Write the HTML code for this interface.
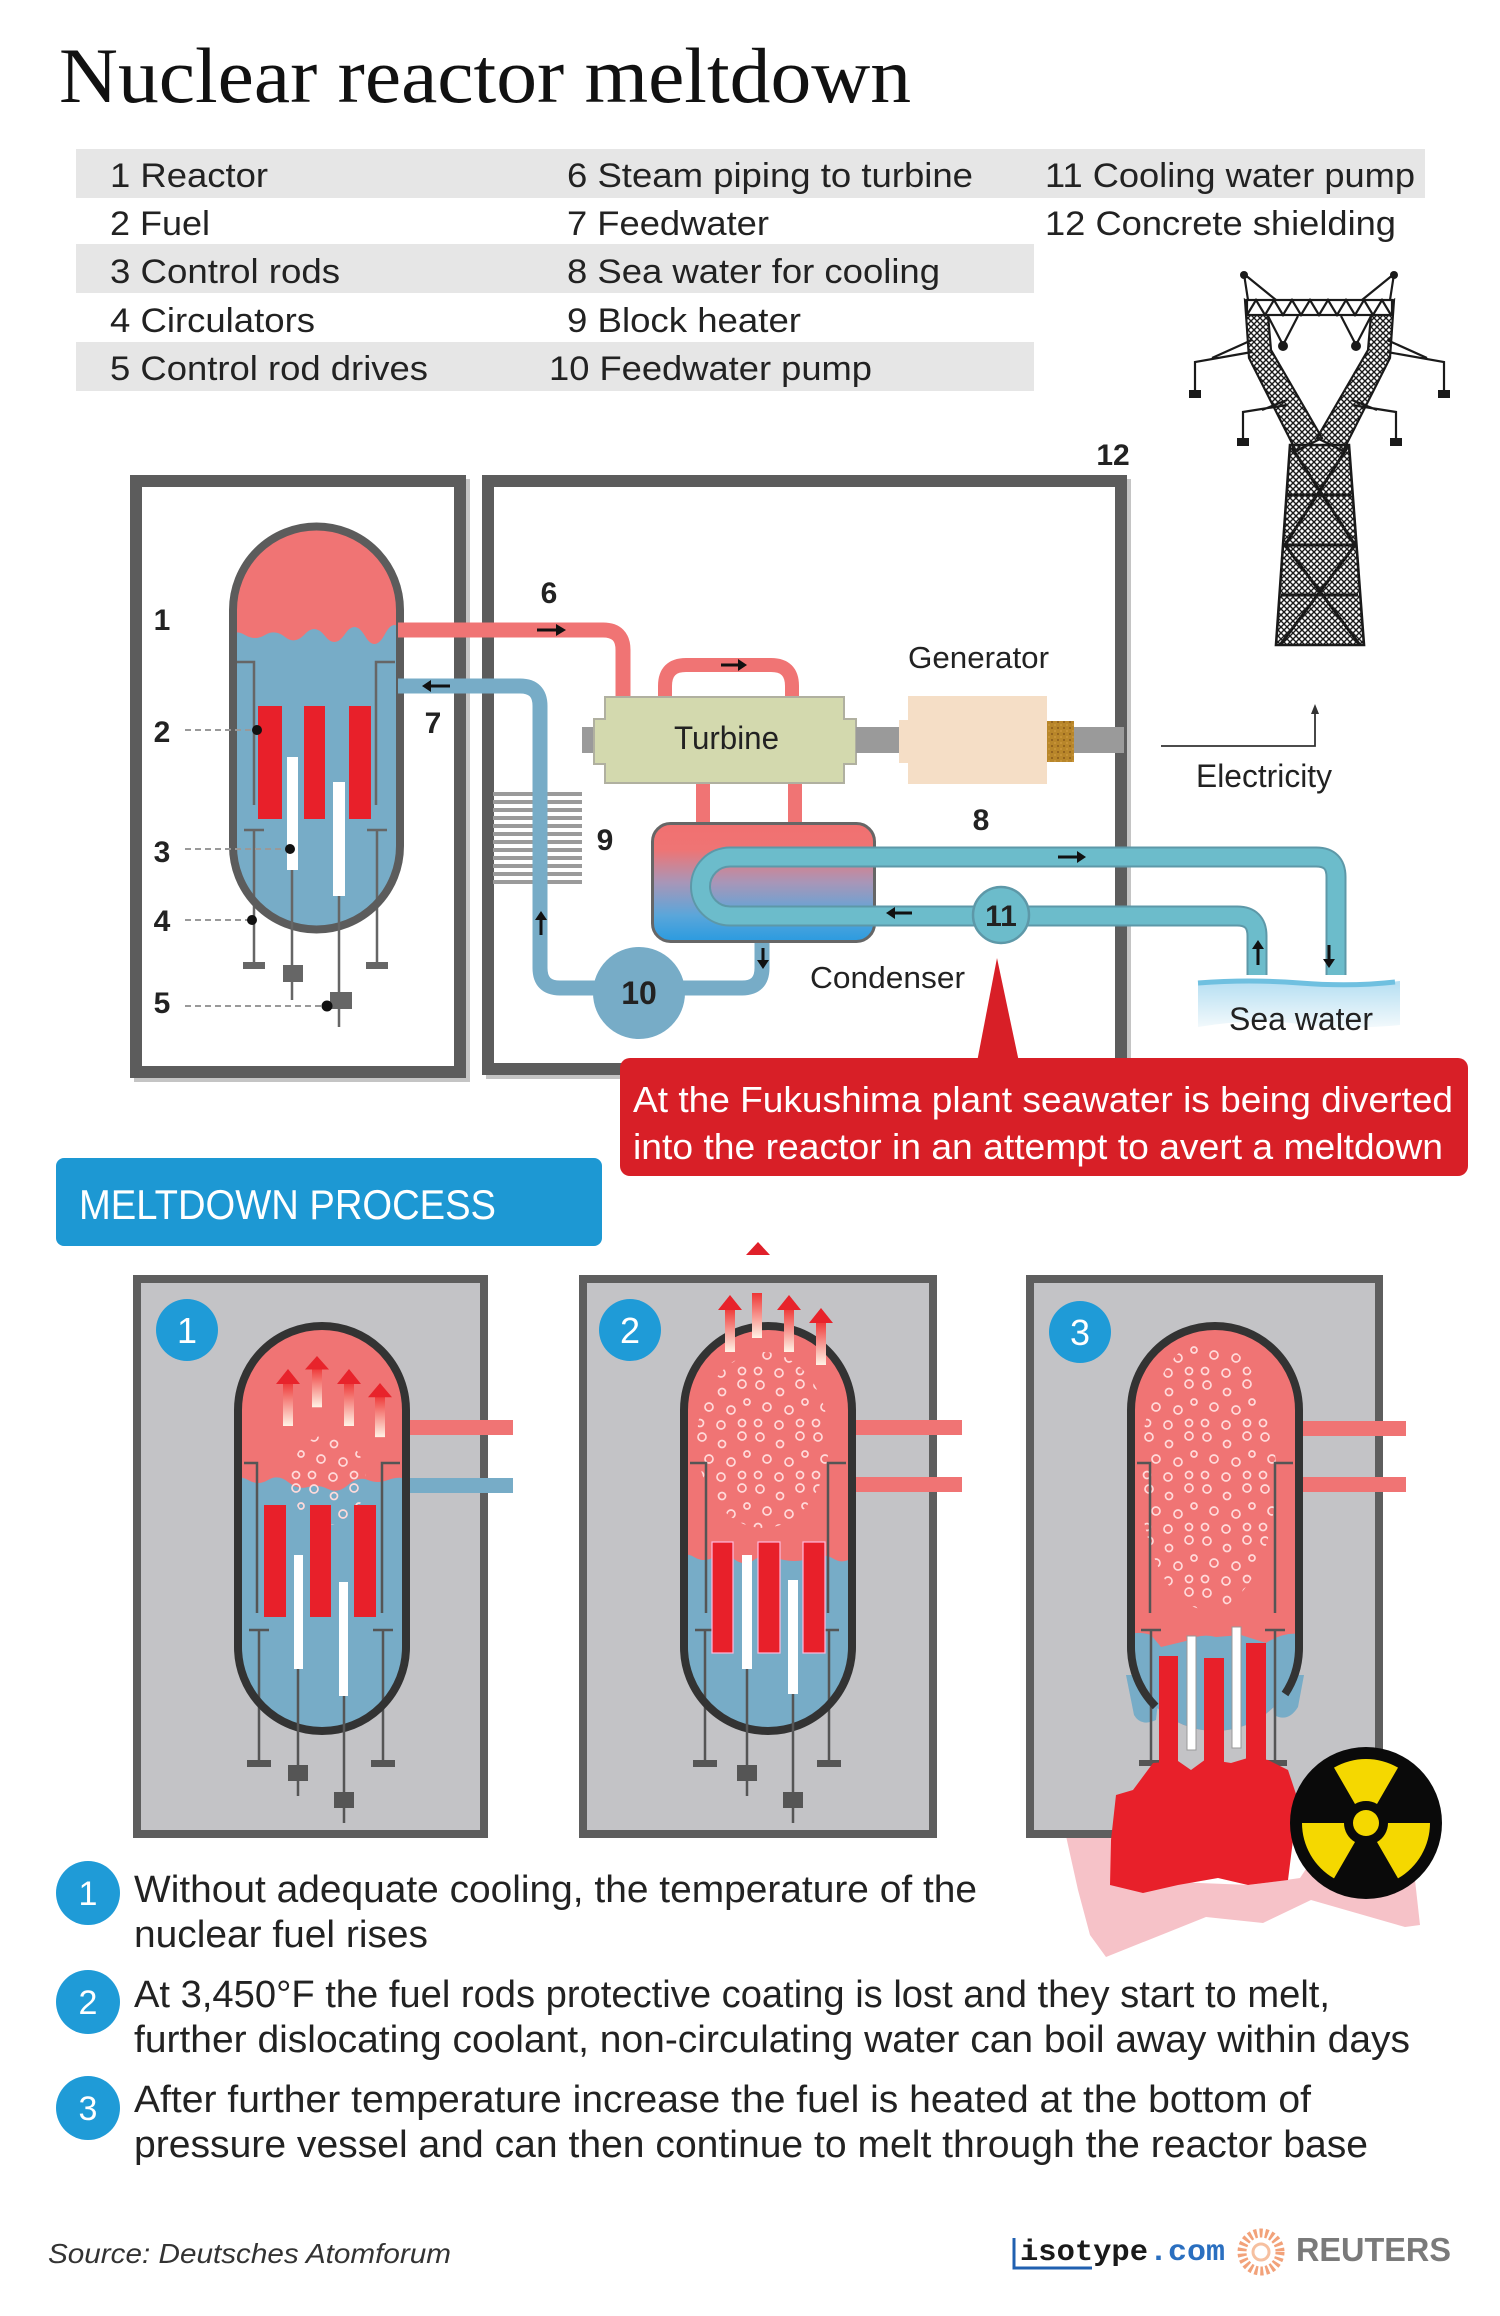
<!DOCTYPE html>
<html><head><meta charset="utf-8"><style>
html,body{margin:0;padding:0;background:#fff;}
svg{display:block;}
text{font-family:"Liberation Sans",Arial,sans-serif;}
</style></head><body>
<svg width="1500" height="2316" viewBox="0 0 1500 2316" xmlns="http://www.w3.org/2000/svg">
<defs>
  <linearGradient id="cond" x1="0" y1="0" x2="0" y2="1">
    <stop offset="0" stop-color="#f07070"/><stop offset="0.22" stop-color="#ef7474"/>
    <stop offset="0.5" stop-color="#a896b8"/><stop offset="0.78" stop-color="#5aa6da"/><stop offset="1" stop-color="#2a9be0"/>
  </linearGradient>
  <linearGradient id="tail" x1="0" y1="0" x2="0" y2="1">
    <stop offset="0" stop-color="#ee3535"/><stop offset="1" stop-color="#fff3e6"/>
  </linearGradient>
  <linearGradient id="sea" x1="0" y1="0" x2="0" y2="1">
    <stop offset="0" stop-color="#b4def2"/><stop offset="1" stop-color="#f2f9fc"/>
  </linearGradient>
  <pattern id="bub" width="58" height="52" patternUnits="userSpaceOnUse">
    <g fill="none" stroke="#ffdada" stroke-width="1.7">
      <circle cx="7" cy="6" r="4"/><circle cx="27" cy="13" r="3.5"/><circle cx="47" cy="5" r="4"/>
      <circle cx="14" cy="28" r="4"/><circle cx="36" cy="31" r="4"/><circle cx="52" cy="23" r="3"/>
      <circle cx="5" cy="44" r="3.5"/><circle cx="26" cy="46" r="4"/><circle cx="47" cy="44" r="3.5"/>
    </g>
  </pattern>
  <pattern id="hatch" width="6" height="6" patternUnits="userSpaceOnUse">
    <path d="M0,0 L6,6 M6,0 L0,6" stroke="#1a1a1a" stroke-width="1.4"/>
  </pattern>
  <pattern id="brown" width="6" height="6" patternUnits="userSpaceOnUse">
    <rect width="6" height="6" fill="#b8862a"/><circle cx="2" cy="2" r="1" fill="#8a5a1a"/><circle cx="5" cy="5" r="0.9" fill="#d09a40"/>
  </pattern>
  <clipPath id="v0"><path d="M233,610 A83.5,83.5 0 0 1 400,610 L400,846 A83.5,83.5 0 0 1 233,846 Z"/></clipPath>
  <clipPath id="vp"><path d="M105,135 A84,84 0 0 1 273,135 L273,372 A84,84 0 0 1 105,372 Z"/></clipPath>
  <g id="sarrow">
    <rect x="-5" y="13" width="10" height="44" fill="url(#tail)"/>
    <path d="M-12,15 L0,0 L12,15 Z" fill="#e8232b"/>
  </g>
</defs>

<!-- Title -->
<text x="59" y="102" font-size="78" fill="#111" textLength="852" lengthAdjust="spacingAndGlyphs" style="font-family:'Liberation Serif',serif">Nuclear reactor meltdown</text>

<!-- Legend -->
<rect x="76" y="149" width="1349" height="49" fill="#e6e6e6"/>
<rect x="76" y="244" width="958" height="49" fill="#e6e6e6"/>
<rect x="76" y="342" width="958" height="49" fill="#e6e6e6"/>
<g font-size="34" fill="#222">
  <text x="110" y="187" textLength="158" lengthAdjust="spacingAndGlyphs">1 Reactor</text>
  <text x="110" y="235" textLength="100" lengthAdjust="spacingAndGlyphs">2 Fuel</text>
  <text x="110" y="283" textLength="230" lengthAdjust="spacingAndGlyphs">3 Control rods</text>
  <text x="110" y="332" textLength="205" lengthAdjust="spacingAndGlyphs">4 Circulators</text>
  <text x="110" y="380" textLength="318" lengthAdjust="spacingAndGlyphs">5 Control rod drives</text>
  <text x="567" y="187" textLength="406" lengthAdjust="spacingAndGlyphs">6 Steam piping to turbine</text>
  <text x="567" y="235" textLength="202" lengthAdjust="spacingAndGlyphs">7 Feedwater</text>
  <text x="567" y="283" textLength="373" lengthAdjust="spacingAndGlyphs">8 Sea water for cooling</text>
  <text x="567" y="332" textLength="234" lengthAdjust="spacingAndGlyphs">9 Block heater</text>
  <text x="549" y="380" textLength="323" lengthAdjust="spacingAndGlyphs">10 Feedwater pump</text>
  <text x="1045" y="187" textLength="370" lengthAdjust="spacingAndGlyphs">11 Cooling water pump</text>
  <text x="1045" y="235" textLength="351" lengthAdjust="spacingAndGlyphs">12 Concrete shielding</text>
</g>

<!-- Pylon -->
<g stroke="#1a1a1a" stroke-width="2.2" fill="none">
  <polygon points="1245,300 1268,315 1271,350 1322,438 1296,451 1249,358" fill="url(#hatch)"/>
  <polygon points="1394,300 1371,315 1368,350 1317,438 1343,451 1390,358" fill="url(#hatch)"/>
  <polygon points="1290,445 1349,445 1364,645 1276,645" fill="url(#hatch)" stroke-width="2.6"/>
  <path d="M1292,448 L1355,545 L1280,645 M1347,448 L1285,545 L1360,645 M1288,495 L1351,495 M1284,545 L1355,545 M1281,595 L1358,595" stroke-width="3"/>
  <rect x="1247" y="300" width="145" height="15" fill="#fff"/>
  <polyline points="1247,315 1256,300 1265,315 1274,300 1283,315 1292,300 1301,315 1310,300 1319,315 1328,300 1337,315 1346,300 1355,315 1364,300 1373,315 1382,300 1391,315"/>
  <path d="M1244,274 L1248,300 M1244,274 L1276,300 M1394,274 L1390,300 M1394,274 L1362,300"/>
  <path d="M1268,316 L1283,345 L1298,316 M1341,316 L1356,345 L1371,316"/>
  <path d="M1252,352 L1195,362 L1195,392 M1252,340 L1212,358 M1387,352 L1444,362 L1444,392 M1387,340 L1427,358"/>
  <path d="M1287,405 L1243,412 L1243,440 M1287,400 L1262,410 M1352,405 L1396,412 L1396,440 M1352,400 L1377,410"/>
</g>
<g fill="#1a1a1a">
  <circle cx="1244" cy="275" r="4"/><circle cx="1394" cy="275" r="4"/>
  <circle cx="1283" cy="346" r="5"/><circle cx="1356" cy="346" r="5"/>
  <rect x="1189" y="390" width="12" height="8"/><rect x="1438" y="390" width="12" height="8"/>
  <rect x="1237" y="438" width="12" height="8"/><rect x="1390" y="438" width="12" height="8"/>
</g>

<!-- Boxes -->
<rect x="140" y="485" width="324" height="591" fill="none" stroke="#c4c4c4" stroke-width="12"/>
<rect x="136" y="481" width="324" height="591" fill="#fff" stroke="#5c5c5c" stroke-width="12"/>
<rect x="492" y="485" width="633" height="588" fill="none" stroke="#c4c4c4" stroke-width="12"/>
<rect x="488" y="481" width="633" height="588" fill="#fff" stroke="#5c5c5c" stroke-width="12"/>
<text x="1113" y="465" font-size="30" font-weight="bold" fill="#222" text-anchor="middle">12</text>

<!-- Reactor vessel -->
<g clip-path="url(#v0)">
  <rect x="220" y="515" width="200" height="430" fill="#f07474"/>
  <path d="M225,637 Q235,629 245,635 T265,635 T285,637 T305,634 T325,636 T345,634 T365,636 T385,634 T405,636 L405,945 L225,945 Z" fill="#77acc7"/>
</g>
<g stroke="#666" stroke-width="2.5" fill="none">
  <path d="M232,662 L254,662 L254,805 M395,662 L376,662 L376,805"/>
  <path d="M254,830 L254,965 M377,830 L377,965 M244,830 L264,830 M367,830 L387,830"/>
</g>
<rect x="243" y="962" width="22" height="7" fill="#666"/><rect x="366" y="962" width="22" height="7" fill="#666"/>
<g fill="#e8202a">
  <rect x="258" y="706" width="24" height="113"/><rect x="304" y="706" width="21" height="113"/><rect x="349" y="706" width="22" height="113"/>
</g>
<rect x="287" y="757" width="11" height="113" fill="#fff"/><rect x="333" y="782" width="12" height="114" fill="#fff"/>
<path d="M233,610 A83.5,83.5 0 0 1 400,610 L400,846 A83.5,83.5 0 0 1 233,846 Z" fill="none" stroke="#5c5c5c" stroke-width="8"/>
<g stroke="#666" stroke-width="2.5"><path d="M292,870 L292,1000 M339,896 L339,1027"/></g>
<rect x="283" y="965" width="20" height="17" fill="#666"/><rect x="330" y="992" width="22" height="17" fill="#666"/>
<g stroke="#999" stroke-width="2" stroke-dasharray="6 4">
  <path d="M185,730 L257,730 M185,849 L290,849 M185,920 L252,920 M185,1006 L327,1006"/>
</g>
<g fill="#111"><circle cx="257" cy="730" r="5"/><circle cx="290" cy="849" r="5"/><circle cx="252" cy="920" r="5"/><circle cx="327" cy="1006" r="5.5"/></g>
<g font-size="30" font-weight="bold" fill="#222" text-anchor="middle">
  <text x="162" y="630">1</text><text x="162" y="742">2</text><text x="162" y="862">3</text>
  <text x="162" y="931">4</text><text x="162" y="1013">5</text>
  <text x="549" y="603">6</text><text x="433" y="733">7</text>
  <text x="981" y="830">8</text><text x="605" y="850">9</text>
</g>

<!-- Block heater -->
<g stroke="#9a9a9a" stroke-width="4">
  <path d="M493,794 H582 M493,802 H582 M493,810 H582 M493,818 H582 M493,826 H582 M493,834 H582 M493,842 H582 M493,850 H582 M493,858 H582 M493,866 H582 M493,874 H582 M493,882 H582"/>
</g>

<!-- Pipes -->
<g fill="none" stroke-linecap="butt">
  <path d="M398,630 L603,630 Q623,630 623,650 L623,699" stroke="#f07474" stroke-width="15"/>
  <path d="M665,699 L665,686 Q665,665 686,665 L771,665 Q792,665 792,686 L792,699" stroke="#f07474" stroke-width="14"/>
  <path d="M703,782 L703,825 M795,782 L795,825" stroke="#f07474" stroke-width="14"/>
  <path d="M398,686 L520,686 Q540,686 540,706 L540,968 Q540,988 560,988 L600,988" stroke="#77acc7" stroke-width="15"/>
  <path d="M762,940 L762,968 Q762,988 742,988 L680,988" stroke="#77acc7" stroke-width="15"/>
</g>

<!-- Turbine & generator -->
<rect x="582" y="727" width="14" height="26" fill="#9a9a9a"/>
<path d="M605,697 H844 V719 H856 V764 H844 V783 H605 V764 H594 V719 H605 Z" fill="#d3d9ae" stroke="#b0b0a0" stroke-width="2"/>
<text x="674" y="749" font-size="32" fill="#222" textLength="105" lengthAdjust="spacingAndGlyphs">Turbine</text>
<rect x="856" y="727" width="44" height="26" fill="#9a9a9a"/>
<path d="M908,696 H1047 V784 H908 V763 H899 V720 H908 Z" fill="#f5dec6"/>
<rect x="1047" y="721" width="27" height="41" fill="url(#brown)"/>
<rect x="1074" y="727" width="50" height="26" fill="#9a9a9a"/>
<text x="908" y="668" font-size="31" fill="#222" textLength="141" lengthAdjust="spacingAndGlyphs">Generator</text>

<!-- Condenser -->
<rect x="652.5" y="823.5" width="222" height="118" rx="18" fill="url(#cond)" stroke="#666" stroke-width="3"/>
<path d="M1336,975 L1336,877 Q1336,857 1316,857 L730,857 A29.5,29.5 0 0 0 730,916 L1237,916 Q1257,916 1257,936 L1257,975" fill="none" stroke="#5d98a8" stroke-width="21"/>
<path d="M1336,975 L1336,877 Q1336,857 1316,857 L730,857 A29.5,29.5 0 0 0 730,916 L1237,916 Q1257,916 1257,936 L1257,975" fill="none" stroke="#6cbccb" stroke-width="17"/>
<circle cx="1001" cy="915" r="28" fill="#6cbccb" stroke="#5d98a8" stroke-width="2.5"/>
<text x="1001" y="926" font-size="30" font-weight="bold" fill="#222" text-anchor="middle">11</text>
<circle cx="639" cy="993" r="46" fill="#77acc7"/>
<text x="639" y="1004" font-size="32" font-weight="bold" fill="#222" text-anchor="middle">10</text>
<text x="810" y="988" font-size="31" fill="#222" textLength="155" lengthAdjust="spacingAndGlyphs">Condenser</text>

<!-- Arrows -->
<g stroke="#111" stroke-width="3" fill="none">
  <path d="M537,630 H558 M721,665 H740 M1058,857 H1078 M912,913 H894 M450,686 H430 M541,935 V918 M763,948 V962 M1258,965 V947 M1329,945 V960"/>
</g>
<g fill="#111">
  <path d="M566,630 L556,624 L556,636Z M747,665 L738,659 L738,671Z M1086,857 L1077,851 L1077,863Z M886,913 L895,907 L895,919Z M422,686 L431,680 L431,692Z M541,911 L535,920 L547,920Z M763,969 L757,960 L769,960Z M1258,940 L1252,949 L1264,949Z M1329,968 L1323,959 L1335,959Z"/>
</g>

<!-- Sea water -->
<path d="M1198,982 Q1250,978 1300,982 T1400,981 L1400,1025 Q1350,1030 1300,1024 T1198,1027 Z" fill="url(#sea)"/>
<path d="M1198,983 Q1250,979 1300,983 T1395,982" fill="none" stroke="#6fc0e0" stroke-width="5"/>
<text x="1229" y="1030" font-size="32" fill="#222" textLength="144" lengthAdjust="spacingAndGlyphs">Sea water</text>

<!-- Electricity -->
<path d="M1161,746 L1315,746 L1315,712" fill="none" stroke="#333" stroke-width="1.8"/>
<path d="M1315,704 L1311,714 L1319,714 Z" fill="#333"/>
<text x="1196" y="787" font-size="32" fill="#222" textLength="136" lengthAdjust="spacingAndGlyphs">Electricity</text>

<!-- Callout -->
<path d="M997,958 L977,1062 L1019,1062 Z" fill="#d81f27"/>
<rect x="620" y="1058" width="848" height="118" rx="10" fill="#d81f27"/>
<g font-size="36" fill="#fff">
  <text x="633" y="1112" textLength="820" lengthAdjust="spacingAndGlyphs">At the Fukushima plant seawater is being diverted</text>
  <text x="633" y="1159" textLength="810" lengthAdjust="spacingAndGlyphs">into the reactor in an attempt to avert a meltdown</text>
</g>

<!-- Meltdown banner -->
<rect x="56" y="1158" width="546" height="88" rx="8" fill="#1d98d3"/>
<text x="79" y="1219" font-size="42" fill="#fff" textLength="417" lengthAdjust="spacingAndGlyphs">MELTDOWN PROCESS</text>
<path d="M758,1242 L746,1255 L770,1255 Z" fill="#e0202a"/>

<!-- Panel 1 -->
<g transform="translate(133,1275)">
  <rect x="4" y="4" width="347" height="555" fill="#c3c3c6" stroke="#5e5e5e" stroke-width="8"/>
  <rect x="268" y="145" width="112" height="15" fill="#f07474"/>
  <rect x="268" y="203" width="112" height="15" fill="#77acc7"/>
  <g clip-path="url(#vp)">
    <rect x="90" y="40" width="200" height="430" fill="#f07474"/>
    <path d="M95,206 Q105,199 115,205 T135,205 T155,207 T175,212 T195,214 T215,210 T235,205 T255,205 T275,204 T295,205 L295,470 L95,470Z" fill="#77acc7"/>
    <ellipse cx="195" cy="205" rx="38" ry="45" fill="url(#bub)"/>
  </g>
  <g stroke="#555" stroke-width="2.5" fill="none">
    <path d="M111,188 L124,188 L124,338 M267,188 L249,188 L249,338"/>
    <path d="M126,355 L126,488 M250,355 L250,488 M116,355 L136,355 M240,355 L260,355"/>
  </g>
  <rect x="114" y="485" width="24" height="7" fill="#555"/><rect x="238" y="485" width="24" height="7" fill="#555"/>
  <g fill="#e8202a"><rect x="131" y="230" width="22" height="112"/><rect x="177" y="230" width="21" height="112"/><rect x="221" y="230" width="22" height="112"/></g>
  <rect x="161" y="280" width="9" height="114" fill="#fff"/><rect x="206" y="307" width="9" height="114" fill="#fff"/>
  <path d="M105,135 A84,84 0 0 1 273,135 L273,372 A84,84 0 0 1 105,372 Z" fill="none" stroke="#333" stroke-width="8"/>
  <g stroke="#555" stroke-width="2.5"><path d="M165,394 L165,521 M211,421 L211,548"/></g>
  <rect x="155" y="490" width="20" height="16" fill="#555"/><rect x="201" y="517" width="20" height="16" fill="#555"/>
  <use href="#sarrow" transform="translate(155,94)"/>
  <use href="#sarrow" transform="translate(184,81) scale(1,0.9)"/>
  <use href="#sarrow" transform="translate(216,94)"/>
  <use href="#sarrow" transform="translate(247,108) scale(1,0.95)"/>
  <circle cx="54" cy="55" r="31" fill="#1f9bd7"/>
  <text x="54" y="68" font-size="36" fill="#fff" text-anchor="middle">1</text>
</g>

<!-- Panel 2 -->
<g transform="translate(579,1275)">
  <rect x="4" y="4" width="350" height="555" fill="#c3c3c6" stroke="#5e5e5e" stroke-width="8"/>
  <rect x="268" y="145" width="115" height="15" fill="#f07474"/>
  <rect x="268" y="202" width="115" height="15" fill="#f07474"/>
  <g clip-path="url(#vp)">
    <rect x="90" y="40" width="200" height="430" fill="#f07474"/>
    <path d="M95,283 Q105,276 115,282 T135,282 T155,284 T175,285 T195,282 T215,286 T235,282 T255,284 T275,281 T295,282 L295,470 L95,470Z" fill="#77acc7"/>
    <ellipse cx="184" cy="165" rx="66" ry="88" fill="url(#bub)"/>
  </g>
  <g stroke="#555" stroke-width="2.5" fill="none">
    <path d="M111,188 L127,188 L127,338 M267,188 L249,188 L249,338"/>
    <path d="M126,355 L126,488 M250,355 L250,488 M116,355 L136,355 M240,355 L260,355"/>
  </g>
  <rect x="114" y="485" width="24" height="7" fill="#555"/><rect x="238" y="485" width="24" height="7" fill="#555"/>
  <g fill="#e8202a" stroke="#fbd" stroke-width="1.2"><rect x="133" y="267" width="21" height="111"/><rect x="179" y="267" width="22" height="111"/><rect x="224" y="267" width="22" height="111"/></g>
  <rect x="163" y="280" width="10" height="114" fill="#fff"/><rect x="209" y="305" width="10" height="114" fill="#fff"/>
  <path d="M105,135 A84,84 0 0 1 273,135 L273,372 A84,84 0 0 1 105,372 Z" fill="none" stroke="#333" stroke-width="8"/>
  <g stroke="#555" stroke-width="2.5"><path d="M168,394 L168,521 M214,419 L214,548"/></g>
  <rect x="158" y="490" width="20" height="16" fill="#555"/><rect x="204" y="517" width="20" height="16" fill="#555"/>
  <use href="#sarrow" transform="translate(151,20)"/>
  <rect x="173" y="18" width="10" height="45" fill="url(#tail)"/>
  <use href="#sarrow" transform="translate(210,20)"/>
  <use href="#sarrow" transform="translate(242,33)"/>
  <circle cx="51" cy="55" r="31" fill="#1f9bd7"/>
  <text x="51" y="68" font-size="36" fill="#fff" text-anchor="middle">2</text>
</g>

<!-- Pink spill -->
<path d="M1066,1836 L1125,1836 L1125,1880 L1250,1885 L1300,1878 L1312,1860 L1415,1880 L1420,1925 L1405,1927 L1311,1900 L1263,1923 L1206,1917 L1106,1957 L1090,1935 L1078,1890 Z" fill="#f6c2c8"/>

<!-- Panel 3 -->
<g transform="translate(1026,1275)">
  <rect x="4" y="4" width="349" height="555" fill="#c3c3c6" stroke="#5e5e5e" stroke-width="8"/>
  <rect x="268" y="146" width="112" height="15" fill="#f07474"/>
  <rect x="268" y="202" width="112" height="15" fill="#f07474"/>
  <path d="M100,400 L108,440 Q115,452 130,445 L135,400 Z" fill="#77acc7"/>
  <path d="M278,400 L272,432 Q262,448 248,440 L245,400 Z" fill="#77acc7"/>
  <g clip-path="url(#vp)">
    <rect x="90" y="40" width="200" height="430" fill="#f07474"/>
    <path d="M95,362 Q110,355 125,360 L135,372 L160,366 Q175,358 190,362 L215,360 L240,368 Q260,355 280,360 L280,470 L95,470 Z" fill="#77acc7"/>
    <ellipse cx="182" cy="200" rx="68" ry="135" fill="url(#bub)"/>
  </g>
  <g stroke="#555" stroke-width="2.5" fill="none">
    <path d="M111,188 L124,188 L124,338 M267,188 L249,188 L249,338"/>
    <path d="M125,355 L125,488 M249,355 L249,488 M115,355 L135,355 M239,355 L259,355"/>
  </g>
  <rect x="113" y="485" width="24" height="6" fill="#555"/><rect x="237" y="485" width="24" height="6" fill="#555"/>
  <path d="M129.6,431.4 A84,84 0 0 1 105,372 L105,135 A84,84 0 0 1 273,135 L273,372 A84,84 0 0 1 259,419" fill="none" stroke="#333" stroke-width="8"/>
  <rect x="161" y="361" width="9" height="114" fill="#fff" stroke="#999" stroke-width="1"/>
  <rect x="206" y="352" width="9" height="121" fill="#fff" stroke="#999" stroke-width="1"/>
  <g fill="#e8202a">
    <rect x="133" y="381" width="19" height="115"/><rect x="178" y="383" width="20" height="113"/><rect x="220" y="368" width="20" height="128"/>
    <path d="M90,520 L107,515 L127,488 L152,486 L165,495 L180,484 L205,488 L225,482 L242,485 L262,495 L272,525 L267,565 L262,605 L222,610 L192,603 L152,610 L117,618 L84,610 L85,565 Z"/>
  </g>
  <circle cx="54" cy="57" r="31" fill="#1f9bd7"/>
  <text x="54" y="70" font-size="36" fill="#fff" text-anchor="middle">3</text>
</g>

<!-- Radiation symbol -->
<circle cx="1366" cy="1823" r="76" fill="#0a0a0a"/>
<g fill="#f5d800">
  <path d="M1355,1804 L1334,1767.6 A64,64 0 0 1 1398,1767.6 L1377,1804 A22,22 0 0 0 1355,1804 Z"/>
  <path d="M1388,1823 L1430,1823 A64,64 0 0 1 1398,1878.4 L1377,1842 A22,22 0 0 0 1388,1823 Z"/>
  <path d="M1355,1842 L1334,1878.4 A64,64 0 0 1 1302,1823 L1344,1823 A22,22 0 0 0 1355,1842 Z"/>
  <circle cx="1366" cy="1823" r="13"/>
</g>

<!-- Bottom items -->
<g fill="#1f9bd7">
  <circle cx="88" cy="1893" r="32"/><circle cx="88" cy="2002" r="32"/><circle cx="88" cy="2108" r="32"/>
</g>
<g font-size="34" fill="#fff" text-anchor="middle">
  <text x="88" y="1905">1</text><text x="88" y="2014">2</text><text x="88" y="2120">3</text>
</g>
<g font-size="38" fill="#222">
  <text x="134" y="1902" textLength="843" lengthAdjust="spacingAndGlyphs">Without adequate cooling, the temperature of the</text>
  <text x="134" y="1947" textLength="294" lengthAdjust="spacingAndGlyphs">nuclear fuel rises</text>
  <text x="134" y="2007" textLength="1196" lengthAdjust="spacingAndGlyphs">At 3,450°F the fuel rods protective coating is lost and they start to melt,</text>
  <text x="134" y="2052" textLength="1276" lengthAdjust="spacingAndGlyphs">further dislocating coolant, non-circulating water can boil away within days</text>
  <text x="134" y="2112" textLength="1177" lengthAdjust="spacingAndGlyphs">After further temperature increase the fuel is heated at the bottom of</text>
  <text x="134" y="2157" textLength="1234" lengthAdjust="spacingAndGlyphs">pressure vessel and can then continue to melt through the reactor base</text>
</g>

<!-- Footer -->
<text x="48" y="2263" font-size="28" font-style="italic" fill="#333" textLength="403" lengthAdjust="spacingAndGlyphs">Source: Deutsches Atomforum</text>
<path d="M1014,2238 L1014,2268 L1092,2268" fill="none" stroke="#2060b0" stroke-width="3"/>
<text x="1020" y="2260" font-size="30" font-weight="bold" fill="#1a1a1a" textLength="128" lengthAdjust="spacingAndGlyphs" style="font-family:'Liberation Mono',monospace">isotype</text>
<text x="1149" y="2260" font-size="30" font-weight="bold" fill="#2a6fc0" textLength="76" lengthAdjust="spacingAndGlyphs" style="font-family:'Liberation Mono',monospace">.com</text>
<circle cx="1261" cy="2252" r="19" fill="none" stroke="#f2a27a" stroke-width="9" stroke-dasharray="3 2.5"/>
<circle cx="1261" cy="2252" r="8" fill="none" stroke="#f6c0a0" stroke-width="3"/>
<text x="1296" y="2261" font-size="33" font-weight="bold" fill="#7a7a7a" textLength="155" lengthAdjust="spacingAndGlyphs">REUTERS</text>
</svg>
</body></html>
